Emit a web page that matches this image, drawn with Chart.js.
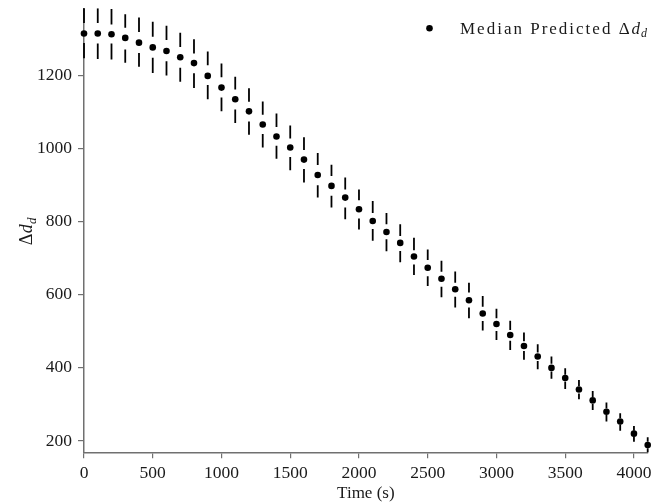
<!DOCTYPE html>
<html>
<head>
<meta charset="utf-8">
<script src="https://cdn.jsdelivr.net/npm/chart.js@4/dist/chart.umd.min.js"></script>
<style>
  html, body { margin: 0; padding: 0; background: #ffffff; }
  #wrap { width: 667px; height: 504px; }
</style>
</head>
<body>
<div id="wrap"><canvas id="c" width="667" height="504"></canvas></div>
<script>
// Sampling times (s)
const times = [0, 100, 200, 300, 400, 500, 600, 700, 800, 900,
  1000, 1100, 1200, 1300, 1400, 1500, 1600, 1700, 1800, 1900,
  2000, 2100, 2200, 2300, 2400, 2500, 2600, 2700, 2800, 2900,
  3000, 3100, 3200, 3300, 3400, 3500, 3600, 3700, 3800, 3900,
  4000, 4100];

// Median predicted Δd_d at each time
const median = [1315, 1315, 1313, 1303, 1290, 1277, 1267, 1250, 1234, 1199,
  1167, 1135, 1102, 1066, 1033, 1003, 970, 928, 898, 866,
  834, 802, 772, 742, 705, 674, 644, 615, 585, 549,
  520, 490, 460, 431, 400, 372, 341, 311, 280, 253,
  220, 189];

// Outer and inner quantile bounds of the prediction
const upperOuter = [1385, 1384, 1382, 1368, 1359, 1347, 1336, 1317, 1299, 1266,
  1233, 1197, 1165, 1129, 1096, 1063, 1031, 988, 956, 921,
  888, 857, 824, 793, 756, 724, 693, 664, 633, 597,
  562, 529, 497, 465, 431, 399, 367, 337, 305, 276,
  241, 210];
const upperInner = [1344, 1344, 1340, 1331, 1319, 1306, 1297, 1278, 1260, 1228,
  1195, 1162, 1128, 1093, 1059, 1028, 996, 955, 925, 888,
  859, 824, 793, 761, 722, 695, 663, 633, 606, 567,
  536, 504, 473, 442, 411, 381, 350, 320, 289, 262,
  228, 198];
const lowerInner = [1289, 1288, 1288, 1271, 1262, 1249, 1239, 1221, 1206, 1174,
  1140, 1107, 1074, 1040, 1008, 977, 944, 900, 871, 839,
  809, 780, 752, 720, 683, 651, 622, 595, 565, 528,
  501, 474, 446, 419, 390, 362, 330, 301, 271, 244,
  212, 180];
const lowerOuter = [1247, 1245, 1244, 1235, 1224, 1207, 1200, 1183, 1166, 1135,
  1102, 1070, 1038, 1003, 972, 941, 907, 866, 839, 807,
  779, 748, 719, 689, 654, 624, 593, 565, 536, 502,
  476, 449, 422, 396, 370, 342, 314, 285, 253, 228,
  198, 166];

// Axis ticks
const xTicks = [0, 500, 1000, 1500, 2000, 2500, 3000, 3500, 4000];
const yTicks = [200, 400, 600, 800, 1000, 1200];

const SERIF = '"Liberation Serif", "Times New Roman", serif';
const AXIS_COLOR = '#707070';
const TEXT_COLOR = '#1a1a1a';

// Vertical whiskers: two segments per point, outer-to-inner quantile
const whiskers = {
  id: 'whiskers',
  beforeDatasetsDraw(chart) {
    const { ctx, chartArea: a, scales: { x, y } } = chart;
    ctx.save();
    ctx.beginPath();
    ctx.rect(a.left - 5, a.top, a.right - a.left + 10, a.bottom - a.top);
    ctx.clip();
    ctx.strokeStyle = '#000';
    ctx.lineWidth = 1.8;
    ctx.lineCap = 'butt';
    times.forEach((t, i) => {
      const px = x.getPixelForValue(t);
      ctx.beginPath();
      ctx.moveTo(px, y.getPixelForValue(upperOuter[i]));
      ctx.lineTo(px, y.getPixelForValue(upperInner[i]));
      ctx.moveTo(px, y.getPixelForValue(lowerInner[i]));
      ctx.lineTo(px, y.getPixelForValue(lowerOuter[i]));
      ctx.stroke();
    });
    ctx.restore();
  }
};

// Draws "Δd" followed by a subscript "d" starting at (x, y) baseline
function drawDeltaDd(ctx, x, y, size, spacing) {
  ctx.textBaseline = 'alphabetic';
  ctx.textAlign = 'left';
  ctx.font = `${size}px ${SERIF}`;
  ctx.fillText('Δ', x, y);
  x += ctx.measureText('Δ').width + spacing;
  ctx.font = `italic ${size}px ${SERIF}`;
  ctx.fillText('d', x, y);
  x += ctx.measureText('d').width + spacing * 0.5;
  const sub = Math.round(size * 0.7);
  ctx.font = `italic ${sub}px ${SERIF}`;
  ctx.fillText('d', x, y + size * 0.22);
  return x + ctx.measureText('d').width;
}

const annotations = {
  id: 'annotations',
  afterDraw(chart) {
    const { ctx, chartArea: a } = chart;
    ctx.save();
    ctx.fillStyle = TEXT_COLOR;

    // y-axis title, rotated
    ctx.save();
    ctx.translate(32, (a.top + a.bottom) / 2 + 15);
    ctx.rotate(-Math.PI / 2);
    drawDeltaDd(ctx, 0, 0, 18, 0.5);
    ctx.restore();

    // legend
    ctx.fillStyle = '#000';
    ctx.beginPath();
    ctx.arc(429.5, 28.3, 3.3, 0, Math.PI * 2);
    ctx.fill();
    ctx.fillStyle = TEXT_COLOR;
    ctx.font = `17px ${SERIF}`;
    ctx.letterSpacing = '2px';
    ctx.textBaseline = 'alphabetic';
    ctx.textAlign = 'left';
    const label = 'Median Predicted ';
    ctx.fillText(label, 460, 33.5);
    const w = ctx.measureText(label).width;
    ctx.letterSpacing = '0px';
    drawDeltaDd(ctx, 460 + w, 33.5, 17, 2);
    ctx.restore();
  }
};

new Chart(document.getElementById('c'), {
  type: 'scatter',
  data: {
    datasets: [{
      label: 'Median Predicted Δd_d',
      data: times.map((t, i) => ({ x: t, y: median[i] })),
      backgroundColor: '#000',
      borderColor: '#000',
      borderWidth: 0,
      pointRadius: 3.3,
      pointHoverRadius: 3.3,
      clip: false
    }]
  },
  options: {
    responsive: false,
    devicePixelRatio: 1,
    animation: false,
    layout: { padding: { top: 8.3, right: 19.3, left: 0, bottom: 0 } },
    plugins: {
      legend: { display: false },
      tooltip: { enabled: false }
    },
    scales: {
      x: {
        type: 'linear',
        min: 0,
        max: 4100,
        afterBuildTicks: s => { s.ticks = xTicks.map(v => ({ value: v })); },
        afterFit: s => { s.height = 51.7; s.paddingLeft = 0; s.paddingRight = 0; },
        grid: { drawOnChartArea: false, drawTicks: true, tickLength: 6, color: AXIS_COLOR, lineWidth: 1.2 },
        border: { display: true, color: AXIS_COLOR, width: 1.5 },
        ticks: {
          color: TEXT_COLOR,
          font: { family: SERIF, size: 17.5 },
          padding: 5,
          maxRotation: 0,
          callback: v => String(v)
        },
        title: {
          display: true,
          text: 'Time (s)',
          color: TEXT_COLOR,
          font: { family: SERIF, size: 17 },
          padding: { top: 0, bottom: 0 }
        }
      },
      y: {
        type: 'linear',
        min: 169,
        max: 1384,
        afterBuildTicks: s => { s.ticks = yTicks.map(v => ({ value: v })); },
        afterFit: s => { s.width = 84; s.paddingTop = 0; s.paddingBottom = 0; },
        grid: { drawOnChartArea: false, drawTicks: true, tickLength: 6, color: AXIS_COLOR, lineWidth: 1.2 },
        border: { display: true, color: AXIS_COLOR, width: 1.5 },
        ticks: {
          color: TEXT_COLOR,
          font: { family: SERIF, size: 17.5 },
          padding: 6,
          callback: v => String(v)
        }
      }
    }
  },
  plugins: [whiskers, annotations]
});
</script>
</body>
</html>
